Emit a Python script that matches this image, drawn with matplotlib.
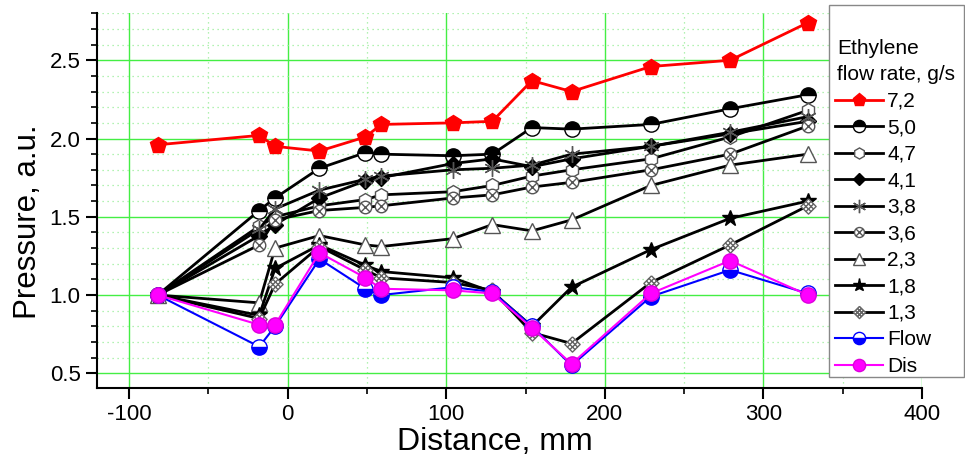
import matplotlib
matplotlib.use("Agg")
import matplotlib.pyplot as plt
from matplotlib.path import Path
from matplotlib.patches import Rectangle
from matplotlib.ticker import MultipleLocator, FormatStrFormatter

plt.rcParams['font.family'] = ['Liberation Sans', 'DejaVu Sans']
plt.rcParams['axes.unicode_minus'] = False

# distance of the measuring points, mm
distance = [-82, -18, -8, 20, 49, 59, 104, 129, 154, 179, 229, 279, 328]

# pressure, a.u., one list per ethylene flow rate
p_72 = [1.96, 2.02, 1.95, 1.92, 2.01, 2.09, 2.10, 2.11, 2.37, 2.30, 2.46, 2.50, 2.74]
p_50 = [1.00, 1.54, 1.62, 1.81, 1.91, 1.90, 1.89, 1.90, 2.07, 2.06, 2.09, 2.19, 2.28]
p_47 = [1.00, 1.44, 1.50, 1.57, 1.61, 1.64, 1.66, 1.70, 1.76, 1.80, 1.87, 2.01, 2.18]
p_41 = [1.00, 1.38, 1.45, 1.62, 1.73, 1.75, 1.84, 1.87, 1.82, 1.87, 1.95, 2.03, 2.11]
p_38 = [1.00, 1.42, 1.55, 1.67, 1.74, 1.76, 1.80, 1.81, 1.83, 1.90, 1.95, 2.04, 2.14]
p_36 = [1.00, 1.32, 1.48, 1.54, 1.56, 1.57, 1.62, 1.64, 1.69, 1.72, 1.80, 1.90, 2.08]
p_23 = [1.00, 0.95, 1.30, 1.38, 1.32, 1.31, 1.36, 1.45, 1.41, 1.48, 1.70, 1.83, 1.90]
p_18 = [1.00, 0.87, 1.17, 1.32, 1.19, 1.15, 1.11, 1.02, 0.80, 1.05, 1.29, 1.49, 1.60]
p_13 = [1.00, 0.85, 1.07, 1.31, 1.16, 1.11, 1.08, 1.03, 0.76, 0.69, 1.08, 1.32, 1.57]
p_flow = [1.00, 0.67, 0.80, 1.23, 1.04, 1.00, 1.05, 1.02, 0.80, 0.55, 0.99, 1.16, 1.01]
p_dis = [1.00, 0.81, 0.81, 1.27, 1.11, 1.04, 1.03, 1.01, 0.79, 0.56, 1.01, 1.22, 1.00]

labels = ["7,2", "5,0", "4,7", "4,1", "3,8", "3,6", "2,3", "1,8", "1,3", "Flow", "Dis"]
legend_title = ["Ethylene", "flow rate, g/s"]

# custom markers: circle with a cross, crosshatched diamond
M, L = Path.MOVETO, Path.LINETO
c = 0.707
circ_x = Path.make_compound_path(
    Path.unit_circle(),
    Path([(-c, -c), (c, c)], [M, L]),
    Path([(-c, c), (c, -c)], [M, L]),
)
dv = [(0, 1), (1, 0), (0, -1), (-1, 0), (0, 1)]
hatch = [Path(dv, [M, L, L, L, L])]
for t in (1 / 3, 2 / 3):
    hatch.append(Path([(-t, 1 - t), (1 - t, -t)], [M, L]))
    hatch.append(Path([(t, 1 - t), (-(1 - t), -t)], [M, L]))
diamond_x = Path.make_compound_path(*hatch)

fig = plt.figure(figsize=(9.65, 4.67), dpi=100)
ax = fig.add_axes([0.1002, 0.1685, 0.8552, 0.803])

ax.plot(distance, p_72, color="red", lw=2, marker="p", ms=12, mfc="red", mec="red", label=labels[0], zorder=5)
ax.plot(distance, p_50, color="black", lw=2, marker="o", ms=11, fillstyle="top", mfc="black",
        mfcalt="white", mec="black", label=labels[1])
ax.plot(distance, p_47, color="black", lw=2, marker="h", ms=10, mfc="white", mec="#555555",
        mew=1, label=labels[2])
ax.plot(distance, p_41, color="black", lw=2, marker="D", ms=8, mfc="black", mec="black", label=labels[3])
ax.plot(distance, p_38, color="black", lw=2, marker=(6, 2, 0), ms=12, mec="#555555", mew=1,
        label=labels[4])
ax.plot(distance, p_36, color="black", lw=2, marker=circ_x, ms=9, mfc="white", mec="#555555",
        mew=1, label=labels[5])
ax.plot(distance, p_23, color="black", lw=2, marker="^", ms=11, mfc="white", mec="#555555",
        mew=1, label=labels[6])
ax.plot(distance, p_18, color="black", lw=2, marker="*", ms=12, mfc="black", mec="black", label=labels[7])
ax.plot(distance, p_13, color="black", lw=2, marker=diamond_x, ms=11, mfc="white", mec="#666666",
        mew=1, label=labels[8])
ax.plot(distance, p_flow, color="blue", lw=1.5, marker="o", ms=11, fillstyle="bottom", mfc="blue",
        mfcalt="white", mec="blue", label=labels[9], zorder=6)
ax.plot(distance, p_dis, color="magenta", lw=1.5, marker="o", ms=11, mfc="#ff00ff", mec="#dd00dd",
        label=labels[10], zorder=7)

ax.set_xlim(-120.5, 400)
ax.set_ylim(0.404, 2.80)
ax.xaxis.set_major_locator(MultipleLocator(100))
ax.xaxis.set_minor_locator(MultipleLocator(50))
ax.yaxis.set_major_locator(MultipleLocator(0.5))
ax.yaxis.set_minor_locator(MultipleLocator(0.1))
ax.yaxis.set_major_formatter(FormatStrFormatter("%.1f"))

ax.grid(which="major", color="#44ee44", lw=1, zorder=0)
ax.grid(which="minor", color="#99ee99", lw=0.9, ls=(0, (1, 3)), zorder=0)
ax.set_axisbelow(True)

for s in ("top", "right"):
    ax.spines[s].set_visible(False)
ax.spines["left"].set_linewidth(1.5)
ax.spines["bottom"].set_linewidth(1.5)
ax.tick_params(which="major", direction="out", length=8, width=1.5, labelsize=16)
ax.tick_params(which="minor", direction="out", length=4, width=1.2)

ax.set_xlabel("Distance, mm", fontsize=23)
ax.set_ylabel("Pressure, a.u.", fontsize=22.5)
ax.xaxis.set_label_coords(0.483, -0.103)
ax.yaxis.set_label_coords(-0.065, 0.4435)

# legend box drawn by hand so the title sits where it does in the original
W, H = 965, 467
fig.add_artist(Rectangle((829 / W, 1 - 377 / H), 135 / W, 372 / H, transform=fig.transFigure,
                         facecolor="white", edgecolor="#888888", lw=1, zorder=3))
fig.text(837 / W, 1 - 48 / H, legend_title[0], fontsize=15, va="center", ha="left", zorder=4)
fig.text(837 / W, 1 - 75 / H, legend_title[1], fontsize=15, va="center", ha="left", zorder=4)
leg = fig.legend(loc="upper left", bbox_to_anchor=(835 / W, 1 - 92 / H), fontsize=15,
                 frameon=False, handlelength=2.3, handletextpad=0.2, labelspacing=0.36,
                 borderpad=0, borderaxespad=0, markerscale=0.8)
leg.set_zorder(5)

fig.savefig("out.png", dpi=100)
